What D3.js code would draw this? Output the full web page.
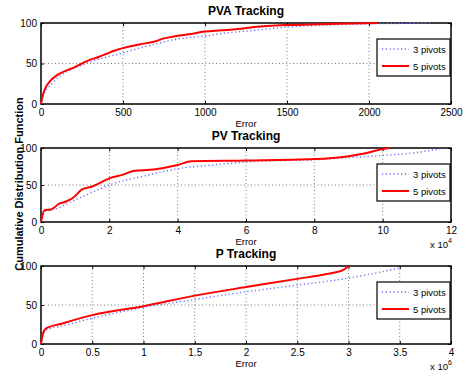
<!DOCTYPE html>
<html>
<head>
<meta charset="utf-8">
<script src="https://cdn.jsdelivr.net/npm/d3@7"></script>
<style>
body { margin: 0; background: #fff; }
text { font-family: "Liberation Sans", Arial, sans-serif; }
</style>
</head>
<body>
<svg id="chart"></svg>
<script>
// PVA Tracking (error)
var pvaThree = [[0,0],[10,8],[30,17],[60,24],[100,32],[150,39],[200,44],[250,48],[300,52],[400,58],[500,63],[600,69],[700,74],[800,79],[900,82],[1000,84],[1100,87],[1200,89],[1300,91],[1400,93],[1500,95],[1700,97],[2000,99],[2200,99.5],[2370,100]]
var pvaFive = [[0,0],[10,10],[25,19],[50,27],[100,36],[150,41],[200,45],[230,48],[280,53],[350,58],[400,62],[450,66],[500,69],[600,73.5],[700,77.5],[750,81],[800,83],[900,86],[1000,89.5],[1100,91],[1200,92.5],[1300,95],[1500,97.5],[1700,98.5],[1900,99.3],[2050,100]]
// PV Tracking (error x 10^4)
var pvThree = [[0,0],[0.05,6],[0.1,14],[0.5,19],[1,30],[1.5,40],[2,50],[3,62],[4,72],[5,77],[6,81],[7,83],[8,84],[9,87],[10,90],[11,94],[11.7,99]]
var pvFive = [[0,0],[0.1,16],[0.3,17],[0.4,20],[0.5,24],[0.7,27],[1,35],[1.1,40],[1.2,44],[1.5,48],[2,59],[2.4,64],[2.7,69],[3.3,71],[4,77],[4.4,82],[6,83],[8,85],[9,89],[9.5,93],[10,98.5],[10.2,100]]
// P Tracking (error x 10^6)
var pThree = [[0,0],[0.02,12],[0.05,18],[0.2,23],[0.5,33],[1,47],[1.5,57],[2,67],[2.5,75.5],[3,84.5],[3.5,97.5]]
var pFive = [[0,0],[0.02,14],[0.05,20],[0.2,26],[0.5,37],[1,48.5],[1.5,62],[2,73],[2.5,83.5],[2.8,90],[2.95,95],[3,100]]

var seriesNames = ["3 pivots", "5 pivots"]
var yTicks = [0, 50, 100]

var panels = [
	{ title: "PVA Tracking", three: pvaThree, five: pvaFive, xMax: 2500, xTicks: [0,500,1000,1500,2000,2500], exp: null, top: 23, bottom: 104 },
	{ title: "PV Tracking", three: pvThree, five: pvFive, xMax: 12, xTicks: [0,2,4,6,8,10,12], exp: "4", top: 148, bottom: 222 },
	{ title: "P Tracking", three: pThree, five: pFive, xMax: 4, xTicks: [0,0.5,1,1.5,2,2.5,3,3.5,4], exp: "6", top: 266, bottom: 344 }
]

var width = 466
var height = 376
var left = 41
var right = 451

var svg = d3.select("#chart").attr("width", width).attr("height", height)

panels.forEach(function (p) {
	var x = d3.scaleLinear().domain([0, p.xMax]).range([left, right])
	var y = d3.scaleLinear().domain([0, 100]).range([p.bottom, p.top])
	var g = svg.append("g")

	// grid
	g.selectAll(".vg").data(p.xTicks.slice(1, -1)).enter().append("line")
		.attr("x1", d => x(d)).attr("x2", d => x(d))
		.attr("y1", p.top).attr("y2", p.bottom)
		.attr("stroke", "#555").attr("stroke-width", 0.8).attr("stroke-dasharray", "1,2.5")
	g.selectAll(".hg").data(yTicks.slice(1, -1)).enter().append("line")
		.attr("x1", left).attr("x2", right)
		.attr("y1", d => y(d)).attr("y2", d => y(d))
		.attr("stroke", "#555").attr("stroke-width", 0.8).attr("stroke-dasharray", "1,2.5")

	// axes
	var xAxis = g.append("g").attr("transform", "translate(0," + p.bottom + ")")
		.call(d3.axisBottom(x).tickValues(p.xTicks).tickSize(-3).tickPadding(5).tickFormat(d3.format("")))
	var xTop = g.append("g").attr("transform", "translate(0," + p.top + ")")
		.call(d3.axisTop(x).tickValues(p.xTicks).tickSize(-3).tickFormat(""))
	var yAxis = g.append("g").attr("transform", "translate(" + left + ",0)")
		.call(d3.axisLeft(y).tickValues(yTicks).tickSize(-3).tickPadding(4))
	var yRight = g.append("g").attr("transform", "translate(" + right + ",0)")
		.call(d3.axisRight(y).tickValues(yTicks).tickSize(-3).tickFormat(""))
	;[xAxis, xTop, yAxis, yRight].forEach(function (a) {
		a.select(".domain").remove()
		a.selectAll("line").attr("stroke", "#000")
		a.selectAll("text").attr("font-size", 10).attr("fill", "#000")
	})
	g.append("rect").attr("x", left).attr("y", p.top)
		.attr("width", right - left).attr("height", p.bottom - p.top)
		.attr("fill", "none").attr("stroke", "#000").attr("stroke-width", 1.5)

	var line = d3.line().x(d => x(d[0])).y(d => y(d[1])).curve(d3.curveMonotoneX)

	g.append("path").datum(p.three).attr("d", line)
		.attr("fill", "none").attr("stroke", "#6b6bff").attr("stroke-width", 1.4)
		.attr("stroke-dasharray", "1.2,2.6")
	g.append("path").datum(p.five).attr("d", line)
		.attr("fill", "none").attr("stroke", "#f00").attr("stroke-width", 2)

	// title
	g.append("text").attr("x", (left + right) / 2).attr("y", p.top - 8)
		.attr("text-anchor", "middle").attr("font-size", 12).attr("font-weight", "bold").text(p.title)
	g.append("text").attr("x", (left + right) / 2).attr("y", p.bottom + 23)
		.attr("text-anchor", "middle").attr("font-size", 9.5).text("Error")
	if (p.exp) {
		var t = g.append("text").attr("x", 430).attr("y", p.bottom + 26).attr("font-size", 9.5)
		t.append("tspan").text("x 10")
		t.append("tspan").attr("dy", -5).attr("font-size", 7).text(p.exp)
	}

	// legend
	var ly = p.top + 16
	var lg = g.append("g")
	lg.append("rect").attr("x", 377).attr("y", ly).attr("width", 73).attr("height", 37)
		.attr("fill", "#fff").attr("stroke", "#000").attr("stroke-width", 1.2)
	lg.append("line").attr("x1", 382).attr("x2", 409).attr("y1", ly + 10).attr("y2", ly + 10)
		.attr("stroke", "#6b6bff").attr("stroke-width", 1.4).attr("stroke-dasharray", "1.2,2.6")
	lg.append("line").attr("x1", 382).attr("x2", 409).attr("y1", ly + 27).attr("y2", ly + 27)
		.attr("stroke", "#f00").attr("stroke-width", 2)
	lg.selectAll(".lt").data(seriesNames).enter().append("text")
		.attr("x", 413).attr("y", (d, i) => ly + 13.5 + i * 17)
		.attr("font-size", 9.5).text(d => d)
})

svg.append("text")
	.attr("transform", "translate(23,184) rotate(-90)")
	.attr("text-anchor", "middle").attr("font-size", 11).attr("font-weight", "bold")
	.text("Cumulative Distribution Function")
</script>
</body>
</html>
